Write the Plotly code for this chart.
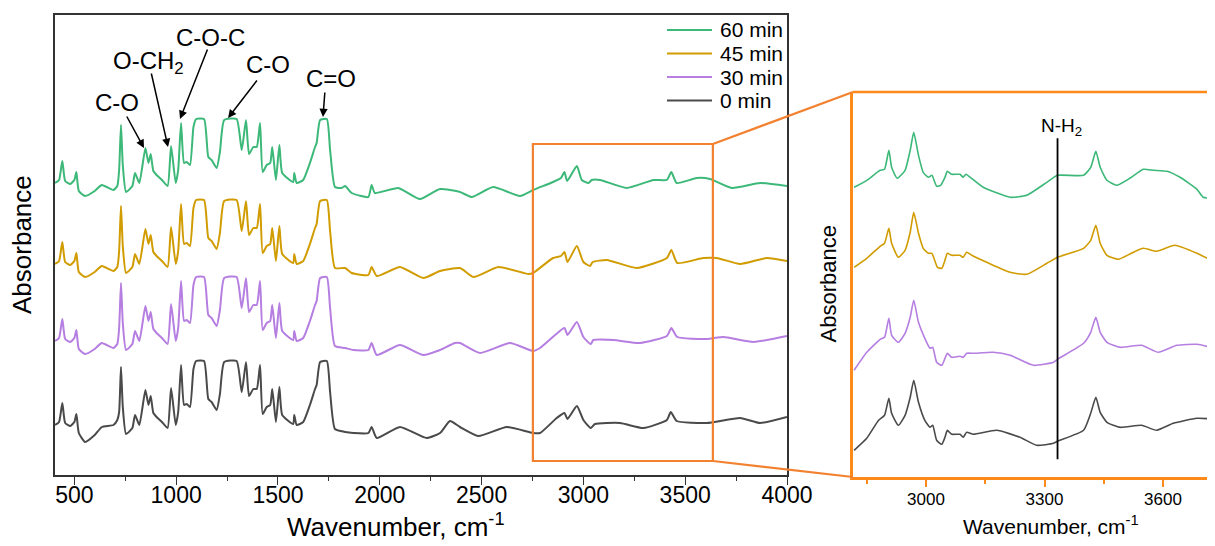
import plotly.graph_objects as go

# ---------------- data (absorbance, arbitrary units, stacked) ----------------
wn_fp = [405, 425, 441, 455, 480, 500, 510, 522, 553, 600, 635, 692, 711, 720, 729, 738, 754, 785, 798, 819,
         849, 864, 875, 888, 904, 930, 958, 975, 998, 1010, 1024, 1039, 1052, 1068, 1085, 1098, 1137, 1158, 1174, 1199,
         1215, 1236, 1297, 1322, 1343, 1358, 1379, 1396, 1412, 1425, 1445, 1462, 1472, 1490, 1507, 1521, 1575, 1580, 1592, 1624,
         1657, 1682, 1690, 1707, 1740, 1756, 1780]

abs60_fp = [297, 300, 319, 299, 296, 300, 308, 289, 284, 289, 295, 290, 294, 310, 355, 315, 288, 294, 307, 297,
            332, 317, 326, 309, 305, 300, 294, 334, 297, 310, 357, 317, 318, 315, 353, 361, 361, 323, 320, 312,
            328, 360, 361, 330, 360, 326, 333, 333, 357, 308, 315, 317, 333, 300, 335, 307, 298, 307, 297, 300,
            317, 333, 337, 360, 361, 330, 293]
wn60_tail = [1813, 1830, 1862, 1944, 1960, 1976, 2091, 2197, 2296, 2394, 2452, 2557, 2689, 2753, 2851, 2890, 2907, 2920,
             2968, 2992, 3025, 3041, 3082, 3213, 3344, 3410, 3432, 3458, 3557, 3622, 3729, 3868, 4000]
abs60_tail = [292, 294, 287, 283, 295, 287, 292, 281, 291, 288, 283, 293, 284, 290, 298, 302, 308, 299,
              314, 300, 297, 300, 300, 292, 300, 300, 308, 297, 302, 301, 292, 297, 294]

abs45_fp = [216, 219, 238, 218, 215, 219, 227, 208, 203, 208, 214, 209, 213, 229, 274, 234, 207, 213, 226, 216,
            251, 236, 245, 228, 224, 219, 213, 253, 216, 229, 276, 236, 237, 234, 272, 280, 280, 242, 239, 231,
            247, 279, 280, 249, 279, 245, 252, 252, 276, 227, 234, 236, 252, 219, 254, 226, 217, 226, 216, 219,
            236, 252, 256, 279, 280, 249, 212]
wn45_tail = [1830, 1862, 1944, 1960, 1985, 2099, 2214, 2296, 2394, 2460, 2583, 2730, 2753, 2851, 2890, 2907, 2922,
             2968, 3000, 3033, 3046, 3115, 3262, 3410, 3432, 3461, 3589, 3655, 3770, 3901, 4000]
abs45_tail = [212, 207, 205, 213, 204, 213, 202, 209, 212, 203, 213, 206, 207, 222, 224, 228, 218,
              234, 218, 214, 218, 220, 212, 222, 230, 217, 222, 222, 216, 222, 219]

abs30_fp = [139, 142, 161, 141, 138, 142, 150, 131, 126, 131, 137, 132, 136, 152, 197, 157, 130, 136, 149, 139,
            174, 159, 168, 151, 147, 142, 136, 176, 139, 152, 199, 159, 160, 157, 195, 203, 203, 165, 162, 154,
            170, 202, 203, 172, 202, 168, 175, 175, 199, 150, 157, 159, 175, 142, 177, 149, 140, 149, 139, 142,
            159, 175, 179, 202, 203, 172, 134]
wn30_tail = [1830, 1870, 1944, 1960, 1985, 2099, 2214, 2296, 2369, 2394, 2493, 2640, 2753, 2787, 2861, 2907, 2922,
             2968, 3000, 3036, 3049, 3148, 3279, 3410, 3432, 3461, 3606, 3688, 3835, 4000]
abs30_tail = [132, 130, 130, 137, 125, 135, 125, 130, 137, 137, 127, 137, 129, 132, 145, 152, 145,
              158, 143, 136, 140, 140, 137, 144, 152, 143, 141, 143, 138, 144]

abs0_fp = [55, 58, 77, 57, 54, 58, 66, 47, 38, 45, 53, 55, 60, 68, 113, 73, 46, 52, 65, 55,
           90, 75, 84, 67, 63, 58, 52, 92, 55, 68, 115, 75, 76, 73, 111, 119, 119, 81, 78, 70,
           86, 118, 119, 88, 118, 84, 91, 91, 115, 66, 73, 75, 91, 58, 93, 65, 56, 65, 55, 58,
           75, 91, 95, 118, 119, 88, 51]
wn0_tail = [1830, 1870, 1944, 1960, 1985, 2099, 2230, 2296, 2345, 2394, 2484, 2624, 2753, 2787, 2869, 2907, 2922,
            2968, 3000, 3036, 3057, 3180, 3295, 3410, 3429, 3458, 3606, 3770, 3868, 4000]
abs0_tail = [48, 47, 47, 53, 42, 53, 42, 47, 59, 53, 44, 53, 47, 47, 62, 67, 61,
             74, 60, 52, 56, 57, 52, 60, 68, 59, 57, 62, 57, 63]

# zoomed inset (2815-3730 cm-1)
wn60_z = [2818, 2850, 2884, 2895, 2906, 2913, 2927, 2947, 2960, 2969, 2981, 2993, 3006, 3015, 3027, 3037, 3048, 3054,
          3065, 3086, 3094, 3101, 3112, 3145, 3213, 3255, 3306, 3333, 3399, 3417, 3430, 3441, 3458, 3483, 3516, 3550,
          3576, 3610, 3643, 3686, 3702, 3732]
abs60_z = [293, 300, 310, 311, 330, 313, 302, 310, 330, 348, 325, 308, 303, 305, 294, 295, 303, 309,
           306, 306, 303, 306, 303, 293, 283, 285, 298, 305, 305, 313, 329, 313, 300, 295, 302, 311,
           310, 309, 303, 291, 283, 282]
wn45_z = [2818, 2850, 2884, 2895, 2906, 2913, 2930, 2947, 2960, 2969, 2981, 2993, 3006, 3015, 3029, 3040, 3048, 3054,
          3065, 3086, 3094, 3103, 3116, 3154, 3213, 3255, 3306, 3333, 3399, 3417, 3430, 3441, 3458, 3487, 3520, 3550,
          3584, 3630, 3686, 3732]
abs45_z = [213, 222, 234, 237, 252, 237, 223, 230, 248, 268, 247, 232, 227, 227, 213, 212, 220, 227,
           225, 225, 223, 228, 225, 218, 208, 206, 217, 223, 232, 240, 255, 237, 225, 221, 227, 232,
           229, 235, 227, 218]
wn30_z = [2818, 2850, 2884, 2895, 2906, 2913, 2930, 2947, 2960, 2969, 2981, 2997, 3010, 3017, 3027, 3040, 3048, 3054,
          3065, 3086, 3094, 3103, 3120, 3170, 3213, 3272, 3323, 3333, 3399, 3417, 3430, 3441, 3458, 3492, 3546, 3588,
          3635, 3686, 3732]
abs30_z = [110, 128, 141, 143, 162, 145, 138, 147, 163, 180, 158, 142, 132, 133, 118, 115, 122, 127,
           123, 124, 123, 127, 127, 128, 125, 115, 118, 121, 137, 148, 163, 148, 138, 133, 135, 128,
           135, 136, 132]
wn0_z = [2818, 2850, 2880, 2895, 2906, 2913, 2930, 2947, 2960, 2969, 2981, 2997, 3010, 3017, 3027, 3040, 3048, 3054,
         3065, 3086, 3094, 3103, 3120, 3179, 3238, 3280, 3323, 3333, 3399, 3417, 3430, 3441, 3458, 3492, 3546, 3584,
         3626, 3686, 3732]
abs0_z = [30, 42, 60, 65, 82, 67, 55, 65, 83, 100, 78, 60, 53, 55, 40, 36, 43, 50,
          46, 46, 43, 48, 46, 50, 43, 35, 37, 39, 50, 67, 83, 68, 58, 53, 55, 50,
          57, 62, 61]

series_names = ["0 min", "30 min", "45 min", "60 min"]
colors = ["#4a4a4a", "#b57ee0", "#d19c00", "#3cb878"]

main_series = [
    (wn_fp + wn0_tail, abs0_fp + abs0_tail),
    (wn_fp + wn30_tail, abs30_fp + abs30_tail),
    (wn_fp + wn45_tail, abs45_fp + abs45_tail),
    (wn_fp + wn60_tail, abs60_fp + abs60_tail),
]
inset_series = [(wn0_z, abs0_z), (wn30_z, abs30_z), (wn45_z, abs45_z), (wn60_z, abs60_z)]

peak_labels = ["C-O", "O-CH<sub>2</sub>", "C-O-C", "C-O", "C=O"]
peak_tips_x = [842, 960, 1019, 1255, 1721]
peak_tips_y = [332, 333, 361, 362, 363]
label_x = [710, 862, 1171, 1451, 1760]
label_y = [377, 417, 442, 415, 401]
arrow_ax = [-18, -17, 28, 30, 2]
arrow_ay = [-33, -75, -71, -39, -26]

zoom_box_x = [2752, 3636]
zoom_box_y = [19, 336]
nh2_x = 3333

# ---------------- layout constants ----------------
W, H = 1215, 546
OFF = 8  # the page's body margin shifts the figure by 8 px; positions below are window pixels
FONT = "Arial, Liberation Sans, sans-serif"
ORANGE = "#f28230"
ORANGE2 = "#ff8a1c"


def px(xw):
    return (xw - OFF) / W


def py(yw):
    return (H - (yw - OFF)) / H


X1_RANGE = [405, 4000]
Y1_RANGE = [5, 465]
Y2_RANGE = [3.3, 388.3]
X1_DOM = [px(55), px(787)]
Y1_DOM = [py(475), py(15)]
X2_DOM = [px(853), 1.0]
Y2_DOM = [py(477), py(92)]
# inset: 3000 cm-1 at window x=926, 0.395 px per cm-1
X2_RANGE = [3000 + (853 - 926) / 0.395, 3000 + (W + OFF - 926) / 0.395]


def to_paper(v, rng, dom):
    return dom[0] + (v - rng[0]) / (rng[1] - rng[0]) * (dom[1] - dom[0])


fig = go.Figure()
for (xs, ys), name, c in zip(main_series, series_names, colors):
    fig.add_trace(go.Scatter(x=xs, y=ys, mode="lines", name=name, showlegend=False,
                             line=dict(color=c, width=2, shape="spline", smoothing=0.5),
                             xaxis="x", yaxis="y"))
for (xs, ys), name, c in zip(inset_series, series_names, colors):
    fig.add_trace(go.Scatter(x=xs, y=ys, mode="lines", name=name, showlegend=False,
                             line=dict(color=c, width=1.6, shape="spline", smoothing=0.5),
                             xaxis="x2", yaxis="y2"))

annotations = []
for t, tx, ty, lx, ly, ax, ay in zip(peak_labels, peak_tips_x, peak_tips_y, label_x, label_y, arrow_ax, arrow_ay):
    annotations.append(dict(x=tx, y=ty, xref="x", yref="y", text="", showarrow=True,
                            ax=ax, ay=ay, arrowhead=2, arrowsize=1.1, arrowwidth=1.5, arrowcolor="black"))
    annotations.append(dict(x=lx, y=ly, xref="x", yref="y", text=t, showarrow=False,
                            font=dict(family=FONT, size=24, color="black"),
                            xanchor="center", yanchor="middle"))

annotations += [
    dict(x=px(22), y=(Y1_DOM[0] + Y1_DOM[1]) / 2, xref="paper", yref="paper", text="Absorbance",
         textangle=-90, showarrow=False, xanchor="center", yanchor="middle",
         font=dict(family=FONT, size=26, color="black")),
    dict(x=px(396), y=py(525), xref="paper", yref="paper", text="Wavenumber, cm<sup>-1</sup>",
         showarrow=False, xanchor="center", yanchor="middle",
         font=dict(family=FONT, size=26, color="black")),
    dict(x=px(828), y=(Y2_DOM[0] + Y2_DOM[1]) / 2, xref="paper", yref="paper", text="Absorbance",
         textangle=-90, showarrow=False, xanchor="center", yanchor="middle",
         font=dict(family=FONT, size=22, color="black")),
    dict(x=px(1051), y=py(525), xref="paper", yref="paper", text="Wavenumber, cm<sup>-1</sup>",
         showarrow=False, xanchor="center", yanchor="middle",
         font=dict(family=FONT, size=21, color="black")),
    dict(x=3342, y=353, xref="x2", yref="y2", text="N-H<sub>2</sub>", showarrow=False,
         xanchor="center", yanchor="middle", font=dict(family=FONT, size=19, color="black")),
]

# connector lines from zoom box to inset
bx1 = to_paper(zoom_box_x[1], X1_RANGE, X1_DOM)
by_top = to_paper(zoom_box_y[1], Y1_RANGE, Y1_DOM)
by_bot = to_paper(zoom_box_y[0], Y1_RANGE, Y1_DOM)

shapes = [
    dict(type="rect", xref="x", yref="y", x0=zoom_box_x[0], x1=zoom_box_x[1], y0=zoom_box_y[0], y1=zoom_box_y[1],
         line=dict(color=ORANGE, width=2.2)),
    dict(type="line", xref="paper", yref="paper", x0=bx1, y0=by_top, x1=X2_DOM[0], y1=Y2_DOM[1],
         line=dict(color=ORANGE, width=2.2)),
    dict(type="line", xref="paper", yref="paper", x0=bx1, y0=by_bot, x1=X2_DOM[0], y1=Y2_DOM[0],
         line=dict(color=ORANGE, width=2.2)),
    dict(type="line", xref="paper", yref="paper", x0=X2_DOM[0], y0=Y2_DOM[1], x1=1.0, y1=Y2_DOM[1],
         line=dict(color=ORANGE2, width=2.5)),
    dict(type="line", xref="x2", yref="y2", x0=nh2_x, x1=nh2_x, y0=21, y1=342,
         line=dict(color="black", width=1.8)),
]

# legend (drawn manually for tight row spacing), top entry = 60 min
for i, (name, c) in enumerate(zip(series_names[::-1], colors[::-1])):
    yy = py(30 + 23.5 * i)
    shapes.append(dict(type="line", xref="paper", yref="paper", x0=px(667), x1=px(712), y0=yy, y1=yy,
                       line=dict(color=c, width=2)))
    annotations.append(dict(x=px(718), y=yy, xref="paper", yref="paper", text=name, showarrow=False,
                            xanchor="left", yanchor="middle",
                            font=dict(family=FONT, size=21, color="black")))

fig.update_layout(
    template="none",
    width=W, height=H,
    margin=dict(l=0, r=0, t=0, b=0, pad=0),
    paper_bgcolor="white", plot_bgcolor="white",
    font=dict(family=FONT, color="black"),
    showlegend=False,
    xaxis=dict(domain=X1_DOM, range=X1_RANGE, anchor="y", showgrid=False, zeroline=False, automargin=False,
               showline=True, linecolor="#333", linewidth=1.5, mirror=True,
               ticks="outside", ticklen=8, tickwidth=1.3, tickcolor="#333",
               tick0=500, dtick=500, ticklabelstandoff=-9,
               tickfont=dict(family=FONT, size=23, color="black"),
               minor=dict(dtick=250, ticklen=4, tickwidth=1.3, tickcolor="#333", ticks="outside")),
    yaxis=dict(domain=Y1_DOM, range=Y1_RANGE, anchor="x", showgrid=False, zeroline=False, automargin=False,
               showline=True, linecolor="#333", linewidth=1.5, mirror=True,
               showticklabels=False, ticks=""),
    xaxis2=dict(domain=X2_DOM, range=X2_RANGE, anchor="y2", showgrid=False, zeroline=False, automargin=False,
                showline=True, linecolor=ORANGE2, linewidth=2.5,
                ticks="outside", ticklen=7, tickwidth=1.5, tickcolor=ORANGE2,
                tick0=3000, dtick=300, ticklabelstandoff=-2,
                tickfont=dict(family=FONT, size=17, color="black"),
                minor=dict(dtick=150, ticklen=4, tickwidth=1.5, tickcolor=ORANGE2, ticks="outside")),
    yaxis2=dict(domain=Y2_DOM, range=Y2_RANGE, anchor="x2", showgrid=False, zeroline=False, automargin=False,
                showline=True, linecolor=ORANGE2, linewidth=2.5, showticklabels=False, ticks=""),
    annotations=annotations,
    shapes=shapes,
)

fig.write_html("out.html")
